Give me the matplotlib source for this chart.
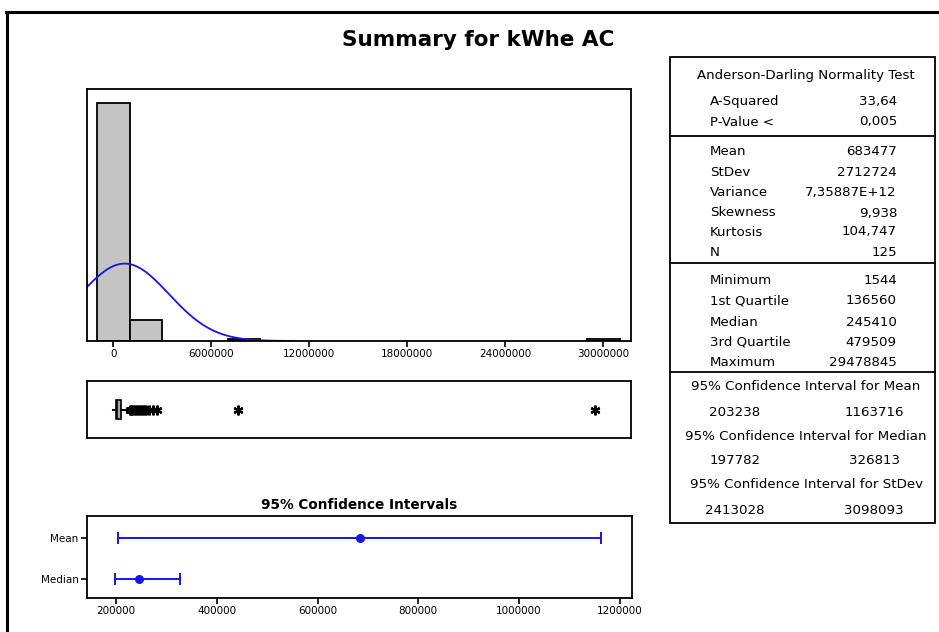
import numpy as np
import matplotlib
matplotlib.use('Agg')
import matplotlib.pyplot as plt
from matplotlib.lines import Line2D
from matplotlib.patches import Rectangle

W, H = 939, 632

# histogram (bin centres / counts)
bin_width = 2000000
hist_centers = [0, 2000000, 8000000, 30000000]
hist_counts = [113, 10, 1, 1]

# summary statistics
n_obs = 125
mean_val = 683477
stdev_val = 2712724
min_val = 1544
q1_val = 136560
median_val = 245410
q3_val = 479509
max_val = 29478845
whisker_hi = 970000
outliers = [1010000, 1080000, 1160000, 1250000, 1370000, 1480000, 1600000,
            1730000, 1870000, 2020000, 2200000, 2420000, 2650000, 7600000, max_val]

# 95% confidence intervals
ci_names = ['Median', 'Mean']
ci_centers = [median_val, mean_val]
ci_low = [197782, 203238]
ci_high = [326813, 1163716]

hist_ticks = [0, 6000000, 12000000, 18000000, 24000000, 30000000]
ci_ticks = [200000, 400000, 600000, 800000, 1000000, 1200000]

table_rows = [
    ('Anderson-Darling Normality Test', None, 75),
    ('A-Squared', '33,64', 102),
    ('P-Value <', '0,005', 122),
    ('Mean', '683477', 152),
    ('StDev', '2712724', 172),
    ('Variance', '7,35887E+12', 192),
    ('Skewness', '9,938', 213),
    ('Kurtosis', '104,747', 232),
    ('N', '125', 252),
    ('Minimum', '1544', 281),
    ('1st Quartile', '136560', 301),
    ('Median', '245410', 322),
    ('3rd Quartile', '479509', 342),
    ('Maximum', '29478845', 362),
]
ci_rows = [
    ('95% Confidence Interval for Mean', ('203238', '1163716'), 386, 412),
    ('95% Confidence Interval for Median', ('197782', '326813'), 437, 461),
    ('95% Confidence Interval for StDev', ('2413028', '3098093'), 485, 510),
]

plt.rcParams['font.family'] = ['DejaVu Sans']


def fx(x):
    return x / W


def fy(y):
    return 1 - y / H


def px_axes(x0, y0, x1, y1):
    return fig.add_axes([fx(x0), fy(y1), (x1 - x0) / W, (y1 - y0) / H])


fig = plt.figure(figsize=(W / 100, H / 100), dpi=100)

# outer frame (only left and top edges fall inside the picture)
fig.add_artist(Line2D([fx(7), fx(7)], [fy(12), fy(H + 5)], color='black', lw=2.2))
fig.add_artist(Line2D([fx(6), fx(W + 5)], [fy(12), fy(12)], color='black', lw=2.2))

fig.text(fx(478), fy(40), 'Summary for kWhe AC', ha='center', va='center',
         fontsize=15.5, fontweight='bold')

xlim_main = (-1620000, 31700000)
blue = '#1515e8'

# histogram
ax1 = px_axes(87, 89, 631, 341)
ax1.bar(hist_centers, hist_counts, width=bin_width, color='#c4c4c4',
        edgecolor='black', linewidth=1.3, zorder=1)
xs = np.linspace(xlim_main[0], 11000000, 400)
curve = n_obs * bin_width * np.exp(-0.5 * ((xs - mean_val) / stdev_val) ** 2) / (stdev_val * np.sqrt(2 * np.pi))
ax1.plot(xs, curve, color=blue, lw=1.3, zorder=2)
ax1.set_xlim(xlim_main)
ax1.set_ylim(0, 119.7)
ax1.set_yticks([])
ax1.set_xticks(hist_ticks)
ax1.set_xticklabels([str(t) for t in hist_ticks])
ax1.tick_params(axis='x', labelsize=7.5, length=4, width=1.2, pad=2)

# boxplot
ax2 = px_axes(87, 381, 631, 438)
stats = [dict(med=median_val, q1=q1_val, q3=q3_val, whislo=min_val,
              whishi=whisker_hi, fliers=outliers)]
ax2.bxp(stats, positions=[0], vert=False, widths=0.7, showcaps=False,
        patch_artist=True,
        boxprops=dict(facecolor='#a8a8a8', edgecolor='black', linewidth=1.2),
        medianprops=dict(color='black', linewidth=1.2),
        whiskerprops=dict(color='black', linewidth=1.5),
        flierprops=dict(marker=(6, 2, 0), markersize=7, markeredgecolor='black',
                        markeredgewidth=1.6, linestyle='none'))
ax2.set_xlim(xlim_main)
ax2.set_ylim(-1, 1)
ax2.set_xticks([])
ax2.set_yticks([])

# confidence intervals
ax3 = px_axes(87, 516, 632, 598)
ypos = [1, 2]
for yy, c, lo, hi in zip(ypos, ci_centers, ci_low, ci_high):
    ax3.errorbar([c], [yy], xerr=[[c - lo], [hi - c]], fmt='o', color=blue,
                 markersize=5.5, elinewidth=1.4, capsize=4, capthick=1.4)
ax3.set_xlim(141800, 1224600)
ax3.set_ylim(0.54, 2.52)
ax3.set_yticks(ypos)
ax3.set_yticklabels(ci_names)
ax3.set_xticks(ci_ticks)
ax3.set_xticklabels([str(t) for t in ci_ticks])
ax3.tick_params(labelsize=7.5, length=4, width=1.2, pad=2)
fig.text(fx(359), fy(505), '95% Confidence Intervals', ha='center', va='center',
         fontsize=9.8, fontweight='bold')

for ax in (ax1, ax2, ax3):
    for s in ax.spines.values():
        s.set_linewidth(1.3)

# statistics table
fig.add_artist(Rectangle((fx(670), fy(523)), (935 - 670) / W, (523 - 57) / H,
                         fill=False, edgecolor='black', lw=1.3, transform=fig.transFigure))
for yl in (136, 263, 372):
    fig.add_artist(Line2D([fx(670), fx(935)], [fy(yl), fy(yl)], color='black', lw=1.3))

tsize = 9.6
for label, value, y in table_rows:
    if value is None:
        fig.text(fx(806), fy(y), label, ha='center', va='center', fontsize=tsize)
    else:
        fig.text(fx(710), fy(y), label, ha='left', va='center', fontsize=tsize)
        fig.text(fx(897), fy(y), value, ha='right', va='center', fontsize=tsize)

for title, (lo, hi), yt, yv in ci_rows:
    fig.text(fx(806), fy(yt), title, ha='center', va='center', fontsize=tsize)
    fig.text(fx(735), fy(yv), lo, ha='center', va='center', fontsize=tsize)
    fig.text(fx(874), fy(yv), hi, ha='center', va='center', fontsize=tsize)

fig.savefig('out.png', dpi=100)
